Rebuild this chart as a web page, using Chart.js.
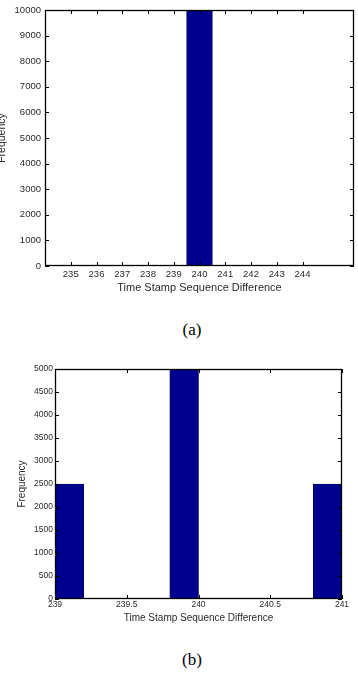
<!DOCTYPE html>
<html>
<head>
<meta charset="utf-8">
<script src="https://cdn.jsdelivr.net/npm/chart.js@4"></script>
<style>
    body { margin: 0; width: 358px; height: 678px; overflow: hidden; background: #fff; position: relative; }
    canvas { position: absolute; }
    .cap { position: absolute; font-family: 'Liberation Serif', serif; font-size: 17px; line-height: 20px; transform: translateX(-50%); color: #000; }
</style>
</head>
<body>
<canvas id="histA" width="362" height="296" style="left:-4px; top:0px;"></canvas>
<div class="cap" style="left:192px; top:320px;">(a)</div>
<canvas id="histB" width="358" height="267" style="left:0px; top:359px;"></canvas>
<div class="cap" style="left:192px; top:650px;">(b)</div>
<script>
// (a) bin centres and counts
const binsA = [235, 236, 237, 238, 239, 240, 241, 242, 243, 244, 245];
const countsA = [0, 0, 0, 0, 0, 10000, 0, 0, 0, 0, 0];
const xTicksA = [235, 236, 237, 238, 239, 240, 241, 242, 243, 244];

// (b) bin centres (width 0.2) and counts
const binsB = [239.1, 239.3, 239.5, 239.7, 239.9, 240.1, 240.3, 240.5, 240.7, 240.9];
const countsB = [2500, 0, 0, 0, 5000, 0, 0, 0, 0, 2500];
const xTicksB = [239, 239.5, 240, 240.5, 241];

const xTitle = 'Time Stamp Sequence Difference';
const yTitle = 'Frequency';
const barColor = '#00008F';
const textColor = '#2a2a2a';
const fontFamily = "'Liberation Sans', Arial, sans-serif";

// black box round the plot with inward tick marks on all four sides
const frameTicks = {
    id: 'frameTicks',
    afterDraw(chart) {
        const { ctx, chartArea: a, scales: { x, y } } = chart;
        ctx.save();
        ctx.strokeStyle = '#000';
        ctx.lineWidth = 1;
        ctx.beginPath();
        x.ticks.forEach(t => {
            const px = Math.round(x.getPixelForValue(t.value)) + 0.5;
            ctx.moveTo(px, a.bottom); ctx.lineTo(px, a.bottom - 4);
            ctx.moveTo(px, a.top); ctx.lineTo(px, a.top + 4);
        });
        y.ticks.forEach(t => {
            const py = Math.round(y.getPixelForValue(t.value)) + 0.5;
            ctx.moveTo(a.left, py); ctx.lineTo(a.left + 4, py);
            ctx.moveTo(a.right, py); ctx.lineTo(a.right - 4, py);
        });
        ctx.stroke();
        ctx.lineWidth = 1.3;
        ctx.strokeRect(a.left + 0.5, a.top + 0.5, a.width - 1, a.height - 1);
        ctx.restore();
    }
};

function makeHist(id, bins, counts, o) {
    const ctx = document.getElementById(id).getContext('2d');
    return new Chart(ctx, {
        type: 'bar',
        data: {
            labels: bins,
            datasets: [{
                data: bins.map((b, i) => ({ x: b, y: counts[i] })),
                backgroundColor: barColor,
                borderColor: '#000033',
                borderWidth: 0.6,
                barPercentage: 1,
                categoryPercentage: 1
            }]
        },
        options: {
            responsive: false,
            animation: false,
            layout: { padding: o.padding },
            plugins: { legend: { display: false }, tooltip: { enabled: false } },
            scales: {
                x: {
                    type: 'linear',
                    min: o.xMin,
                    max: o.xMax,
                    offset: false,
                    afterBuildTicks: s => { s.ticks = o.xTicks.map(v => ({ value: v })); },
                    afterFit: s => { s.height = o.xHeight; },
                    grid: { display: false, drawTicks: false },
                    border: { display: false },
                    ticks: {
                        autoSkip: false, maxRotation: 0, padding: o.xPad,
                        color: textColor, font: { family: fontFamily, size: o.tickSize },
                        callback: v => String(v)
                    },
                    title: {
                        display: true, text: xTitle, color: textColor,
                        font: { family: fontFamily, size: o.xTitleSize },
                        padding: { top: 0, bottom: o.xTitleBottom }
                    }
                },
                y: {
                    min: 0,
                    max: o.yMax,
                    afterFit: s => { s.width = o.yWidth; },
                    grid: { display: false, drawTicks: false },
                    border: { display: false },
                    ticks: {
                        stepSize: o.yStep, padding: o.yPad,
                        color: textColor, font: { family: fontFamily, size: o.tickSize },
                        callback: v => String(v)
                    },
                    title: {
                        display: true, text: yTitle, color: textColor,
                        font: { family: fontFamily, size: o.yTitleSize },
                        padding: { top: 0, bottom: 0 }
                    }
                }
            }
        },
        plugins: [frameTicks]
    });
}

makeHist('histA', binsA, countsA, {
    padding: { left: 0, right: 4, top: 10, bottom: 0 },
    xMin: 234, xMax: 246, xTicks: xTicksA, xHeight: 30, xPad: 3, xTitleBottom: 1,
    yMax: 10000, yStep: 1000, yWidth: 49, yPad: 4,
    tickSize: 9.5, xTitleSize: 11, yTitleSize: 10.5
});

makeHist('histB', binsB, countsB, {
    padding: { left: 16, right: 16, top: 10, bottom: 0 },
    xMin: 239, xMax: 241, xTicks: xTicksB, xHeight: 27, xPad: 1, xTitleBottom: 2,
    yMax: 5000, yStep: 500, yWidth: 39, yPad: 2,
    tickSize: 8.5, xTitleSize: 10, yTitleSize: 10
});
</script>
</body>
</html>
